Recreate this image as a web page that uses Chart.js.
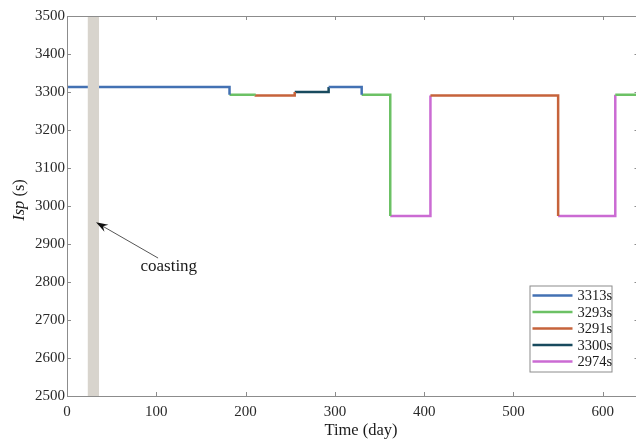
<!DOCTYPE html>
<html>
<head>
<meta charset="utf-8">
<script src="https://cdn.jsdelivr.net/npm/chart.js@4.4.1/dist/chart.umd.min.js"></script>
<style>
  html, body { margin: 0; padding: 0; overflow: hidden; background: #fff; }
  canvas { display: block; }
</style>
</head>
<body>
<canvas id="grafico" width="642" height="442"></canvas>
<script>
// dias donde cambia el impulso especifico y valor de cada tramo
const switchDays = [0, 182, 210, 255, 293, 330, 362, 407, 550, 614, 640]
const segmentIsp = [3313, 3293, 3291, 3300, 3313, 3293, 2974, 3291, 2974, 3293]

// series de la leyenda
const seriesIsp = [3313, 3293, 3291, 3300, 2974]
const seriesLabels = ['3313s', '3293s', '3291s', '3300s', '2974s']
const seriesColors = ['#4371b3', '#6cc165', '#c6633b', '#184a5e', '#cb6bd3']

// franja de coasting (dias)
const coastingDays = [23, 36]

const xTicks = [0, 100, 200, 300, 400, 500, 600]
const yTicks = [2500, 2600, 2700, 2800, 2900, 3000, 3100, 3200, 3300, 3400, 3500]

// flecha de la anotacion: punta, cola y texto (dia, Isp)
const flechaPunta = [32.5, 2957]
const flechaCola = [102, 2863]
const textoCoasting = [114, 2842]

const serif = 'Liberation Serif, Times New Roman, serif'

const puntosSerie = seriesIsp.map(() => [])
segmentIsp.forEach((v, i) => {
  const pts = puntosSerie[seriesIsp.indexOf(v)]
  if (pts.length) pts.push({ x: switchDays[i], y: null })
  pts.push({ x: switchDays[i], y: v }, { x: switchDays[i + 1], y: v })
  if (i + 1 < segmentIsp.length) pts.push({ x: switchDays[i + 1], y: segmentIsp[i + 1] })
})

const datasets = [
  {
    label: 'coasting',
    data: [
      { x: coastingDays[0], y: yTicks[yTicks.length - 1] },
      { x: coastingDays[1], y: yTicks[yTicks.length - 1] },
    ],
    fill: 'start',
    backgroundColor: '#d8d4cd',
    borderWidth: 0,
    pointRadius: 0,
  },
  ...seriesLabels.map((label, k) => ({
    label,
    data: puntosSerie[k],
    borderColor: seriesColors[k],
    borderWidth: 2.5,
    pointRadius: 0,
    tension: 0,
    spanGaps: false,
    borderJoinStyle: 'miter',
    enLeyenda: true,
  })),
]

const marco = {
  id: 'marco',
  afterDatasetsDraw(chart) {
    const { ctx, chartArea: a, scales: { x, y } } = chart
    ctx.save()

    // borde y marcas hacia dentro
    ctx.strokeStyle = '#8c8c8c'
    ctx.lineWidth = 1
    ctx.strokeRect(Math.round(a.left) + 0.5, Math.round(a.top) + 0.5,
      Math.round(a.right - a.left), Math.round(a.bottom - a.top))
    ctx.beginPath()
    xTicks.forEach((v) => {
      const px = Math.round(x.getPixelForValue(v)) + 0.5
      ctx.moveTo(px, a.bottom); ctx.lineTo(px, a.bottom - 4)
      ctx.moveTo(px, a.top); ctx.lineTo(px, a.top + 4)
    })
    yTicks.forEach((v) => {
      const py = Math.round(y.getPixelForValue(v)) + 0.5
      ctx.moveTo(a.left, py); ctx.lineTo(a.left + 4, py)
      ctx.moveTo(a.right, py); ctx.lineTo(a.right - 4, py)
    })
    ctx.stroke()

    // flecha coasting
    const tx = x.getPixelForValue(flechaPunta[0]), ty = y.getPixelForValue(flechaPunta[1])
    const cx = x.getPixelForValue(flechaCola[0]), cy = y.getPixelForValue(flechaCola[1])
    const ang = Math.atan2(ty - cy, tx - cx)
    ctx.strokeStyle = '#555'
    ctx.beginPath()
    ctx.moveTo(cx, cy)
    ctx.lineTo(tx - 8 * Math.cos(ang), ty - 8 * Math.sin(ang))
    ctx.stroke()
    ctx.fillStyle = '#111'
    ctx.beginPath()
    ctx.moveTo(tx, ty)
    ctx.lineTo(tx - 12 * Math.cos(ang) + 4 * Math.sin(ang), ty - 12 * Math.sin(ang) - 4 * Math.cos(ang))
    ctx.lineTo(tx - 8 * Math.cos(ang), ty - 8 * Math.sin(ang))
    ctx.lineTo(tx - 12 * Math.cos(ang) - 4 * Math.sin(ang), ty - 12 * Math.sin(ang) + 4 * Math.cos(ang))
    ctx.closePath()
    ctx.fill()

    ctx.fillStyle = '#1a1a1a'
    ctx.font = '17px ' + serif
    ctx.textAlign = 'center'
    ctx.textBaseline = 'middle'
    ctx.fillText('coasting', x.getPixelForValue(textoCoasting[0]), y.getPixelForValue(textoCoasting[1]))

    // titulo eje x (el original va algo desplazado a la derecha)
    ctx.font = '16.5px ' + serif
    ctx.fillText('Time (day)', 361, 431)

    // leyenda
    const lx = a.right - 109, ly = a.bottom - 110.5
    ctx.fillStyle = '#fff'
    ctx.fillRect(lx, ly, 82, 86)
    ctx.strokeStyle = '#8c8c8c'
    ctx.strokeRect(lx + 0.5, ly + 0.5, 82, 86)
    ctx.font = '14.5px ' + serif
    ctx.textAlign = 'left'
    let fila = 0
    chart.data.datasets.forEach((ds) => {
      if (!ds.enLeyenda) return
      const yy = ly + 10 + fila * 16.5
      ctx.strokeStyle = ds.borderColor
      ctx.lineWidth = 2.5
      ctx.beginPath()
      ctx.moveTo(lx + 3, yy); ctx.lineTo(lx + 43, yy)
      ctx.stroke()
      ctx.fillStyle = '#1a1a1a'
      ctx.fillText(ds.label, lx + 48, yy + 1)
      fila++
    })

    // titulo eje y: Isp en cursiva
    ctx.translate(20, 200)
    ctx.rotate(-Math.PI / 2)
    ctx.font = 'italic 16.5px ' + serif
    const w1 = ctx.measureText('Isp').width
    ctx.font = '16.5px ' + serif
    const w2 = ctx.measureText(' (s)').width
    ctx.textAlign = 'left'
    ctx.font = 'italic 16.5px ' + serif
    ctx.fillText('Isp', -(w1 + w2) / 2, 0)
    ctx.font = '16.5px ' + serif
    ctx.fillText(' (s)', -(w1 + w2) / 2 + w1, 0)

    ctx.restore()
  },
}

new Chart(document.getElementById('grafico'), {
  type: 'line',
  data: { datasets },
  plugins: [marco],
  options: {
    responsive: false,
    animation: false,
    events: [],
    layout: { padding: { top: 16, right: 3.5, left: 0, bottom: 0 } },
    plugins: { legend: { display: false }, tooltip: { enabled: false } },
    scales: {
      x: {
        type: 'linear',
        min: 0,
        max: 640,
        afterBuildTicks: (s) => { s.ticks = xTicks.map((value) => ({ value })) },
        afterFit: (s) => { s.height = 46 },
        grid: { display: false, drawTicks: false },
        border: { display: false },
        ticks: { padding: 7, color: '#2a2a2a', font: { family: serif, size: 15 }, callback: (v) => String(v) },
      },
      y: {
        min: 2500,
        max: 3500,
        afterBuildTicks: (s) => { s.ticks = yTicks.map((value) => ({ value })) },
        afterFit: (s) => { s.width = 67 },
        grid: { display: false, drawTicks: false },
        border: { display: false },
        ticks: { padding: 2, color: '#2a2a2a', font: { family: serif, size: 15 }, callback: (v) => String(v) },
      },
    },
  },
})
</script>
</body>
</html>
